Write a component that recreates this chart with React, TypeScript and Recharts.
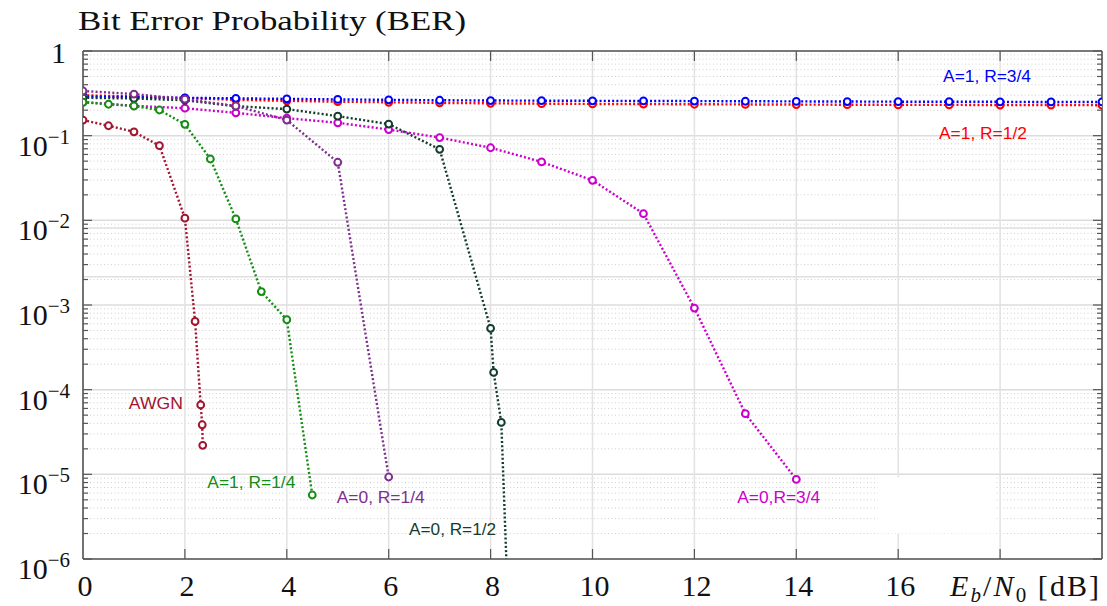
import React from 'react';
import {
  LineChart, Line, XAxis, YAxis, CartesianGrid, ReferenceDot, ReferenceArea, ReferenceLine,
} from 'recharts';

// ---- data ----
const AWGN_X = [0, 0.5, 1, 1.5, 2, 2.2, 2.31, 2.34, 2.35];
const AWGN_BER = [0.153, 0.131, 0.111, 0.0762, 0.0106, 6.4e-4, 6.6e-5, 3.85e-5, 2.2e-5];

const A1R14_X = [0, 0.5, 1, 1.5, 2, 2.5, 3, 3.5, 4, 4.5];
const A1R14_BER = [0.248, 0.235, 0.224, 0.201, 0.136, 0.053, 0.0104, 1.44e-3, 6.7e-4, 5.7e-6];

const A0R14_X = [0, 1, 2, 3, 4, 5, 6];
const A0R14_BER = [0.337, 0.31, 0.27, 0.224, 0.153, 0.0485, 9.3e-6];

const A0R12_X = [0, 1, 2, 3, 4, 5, 6, 7, 8, 8.06, 8.21, 8.37];
const A0R12_BER = [0.28, 0.275, 0.262, 0.223, 0.206, 0.17, 0.137, 0.069, 5.3e-4, 1.6e-4, 4.1e-5, 1e-7];

const A0R34_X = [0, 1, 2, 3, 4, 5, 6, 7, 8, 9, 10, 11, 12, 13, 14];
const A0R34_BER = [0.25, 0.225, 0.211, 0.186, 0.161, 0.142, 0.118, 0.095, 0.072, 0.049, 0.0297, 0.012, 9.2e-4, 5.2e-5, 8.7e-6];

const A1_X = [0, 1, 2, 3, 4, 5, 6, 7, 8, 9, 10, 11, 12, 13, 14, 15, 16, 17, 18, 19, 20];
const A1R34_BER = [0.29, 0.285, 0.28, 0.276, 0.272, 0.268, 0.265, 0.262, 0.26, 0.259, 0.258, 0.257, 0.256, 0.255, 0.254, 0.253, 0.252, 0.252, 0.251, 0.25, 0.25];
const A1R12_BER = [0.3, 0.29, 0.278, 0.265, 0.258, 0.252, 0.248, 0.244, 0.241, 0.239, 0.237, 0.236, 0.235, 0.234, 0.233, 0.232, 0.231, 0.231, 0.23, 0.23, 0.229];

const X_TICKS = [0, 2, 4, 6, 8, 10, 12, 14, 16, 18, 20];
const Y_MAJOR = [1e-6, 1e-5, 1e-4, 1e-3, 1e-2, 1e-1, 1];
const Y_MINOR: number[] = [];
for (let e = -6; e < 0; e++) for (let m = 2; m <= 9; m++) Y_MINOR.push(m * Math.pow(10, e));
const Y_TICKS = [...Y_MAJOR, ...Y_MINOR].sort((a, b) => a - b);
// stray lines in the source image
const STRAY_LINES = [0.0081, 0.00215];

const TITLE = 'Bit Error Probability (BER)';

const LABEL_TEXT = ['AWGN', 'A=1, R=1/4', 'A=0, R=1/4', 'A=0, R=1/2', 'A=0,R=3/4', 'A=1, R=3/4', 'A=1, R=1/2'];
const LABEL_X = [0.9, 2.44, 4.98, 6.4, 12.84, 16.88, 16.8];
const LABEL_Y = [5.85e-5, 6.98e-6, 4.57e-6, 1.93e-6, 4.57e-6, 0.434, 0.0914];
const LABEL_W = [54, 88, 88, 87, 83, 88, 88];

const C_AWGN = '#a2142f';
const C_GREEN = '#138d13';
const C_PURPLE = '#7e2f8e';
const C_DKGREEN = '#123d2c';
const C_MAGENTA = '#cc00cc';
const C_BLUE = '#0000ff';
const C_RED = '#ff0000';
const LABEL_COLORS = [C_AWGN, C_GREEN, C_PURPLE, C_DKGREEN, C_MAGENTA, C_BLUE, C_RED];

const zip = (xs: number[], ys: number[]) => xs.map((x, i) => ({ x, y: ys[i] }));

const SERIES = [
  { name: 'A=1, R=1/2', color: C_RED, data: zip(A1_X, A1R12_BER) },
  { name: 'A=1, R=3/4', color: C_BLUE, data: zip(A1_X, A1R34_BER) },
  { name: 'A=0, R=3/4', color: C_MAGENTA, data: zip(A0R34_X, A0R34_BER) },
  { name: 'A=0, R=1/2', color: C_DKGREEN, data: zip(A0R12_X, A0R12_BER) },
  { name: 'A=1, R=1/4', color: C_GREEN, data: zip(A1R14_X, A1R14_BER) },
  { name: 'AWGN', color: C_AWGN, data: zip(AWGN_X, AWGN_BER) },
  { name: 'A=0, R=1/4', color: C_PURPLE, data: zip(A0R14_X, A0R14_BER) },
];

const AXIS = '#555555';
const SERIF = '"Liberation Serif", "DejaVu Serif", serif';
const SANS = '"Liberation Sans", Arial, sans-serif';

const isMajor = (v: number) => Math.abs(Math.log10(v) - Math.round(Math.log10(v))) < 1e-6;

const YLeftTick = (props: any) => {
  const { x, y, payload } = props;
  const v = payload.value;
  const major = isMajor(v);
  const e = Math.round(Math.log10(v));
  return (
    <g>
      <line x1={x} x2={x + (major ? 9 : 5)} y1={y} y2={y} stroke={AXIS} strokeWidth={1.2} />
      {major && e === 0 && (
        <text x={x - 17} y={y + 12} textAnchor="end" fontFamily={SERIF} fontSize={30} fill="#111">1</text>
      )}
      {major && e !== 0 && (
        <text x={x - 13} y={y + 20} textAnchor="end" fontFamily={SERIF} fontSize={30} fill="#111">
          10<tspan dy={-12} fontSize={21}>{'\u2212' + Math.abs(e)}</tspan>
        </text>
      )}
    </g>
  );
};

const YRightTick = (props: any) => {
  const { x, y, payload } = props;
  const major = isMajor(payload.value);
  return <line x1={x} x2={x - (major ? 9 : 5)} y1={y} y2={y} stroke={AXIS} strokeWidth={1.2} />;
};

const XBottomTick = (props: any) => {
  const { x, y, payload } = props;
  const v = payload.value;
  return (
    <g>
      {v > 0 && v < 20 && <line x1={x} x2={x} y1={y} y2={y - 10} stroke={AXIS} strokeWidth={1.2} />}
      {v <= 16 && (
        <text x={x + 2} y={y + 37} textAnchor="middle" fontFamily={SERIF} fontSize={30} fill="#111">{v}</text>
      )}
      {v === 18 && (
        <text x={x - 50} y={y + 37} fontFamily={SERIF} fontSize={30} fill="#111" textLength={149} lengthAdjust="spacing">
          <tspan fontStyle="italic">E</tspan>
          <tspan fontStyle="italic" fontSize={21} dy={6}>b</tspan>
          <tspan dy={-6}>/</tspan>
          <tspan fontStyle="italic">N</tspan>
          <tspan fontSize={21} dy={6}>0</tspan>
          <tspan dy={-6}>{' [dB]'}</tspan>
        </text>
      )}
    </g>
  );
};

const XTopTick = (props: any) => {
  const { x, y, payload } = props;
  const v = payload.value;
  if (v <= 0 || v >= 20) return <g />;
  return <line x1={x} x2={x} y1={y} y2={y + 10} stroke={AXIS} strokeWidth={1.2} />;
};

const makeDot = (color: string) => (p: any) => {
  const { cx, cy, index } = p;
  if (cx == null || cy == null || !isFinite(cx) || !isFinite(cy)) return <g key={index} />;
  return <circle key={index} cx={cx} cy={cy} r={3.4} fill="#fff" stroke={color} strokeWidth={2} />;
};

const makeLabel = (text: string, color: string, width: number) => (p: any) => (
  <text x={p.cx} y={p.cy} fill={color} fontFamily={SANS} fontSize={16} textLength={width} lengthAdjust="spacingAndGlyphs">
    {text}
  </text>
);

export default function App() {
  return (
    <div style={{ position: 'absolute', left: 0, top: 0, width: 1107, height: 606, background: '#fff' }}>
      <LineChart width={1107} height={606} margin={{ top: 41, right: 0, bottom: 0, left: 0 }}>
        <CartesianGrid vertical={false} horizontalValues={Y_MINOR} stroke="#d0d0d0" strokeDasharray="1 2.5" strokeWidth={1} />
        <CartesianGrid vertical={false} horizontalValues={Y_MAJOR} stroke="#dcdcdc" strokeWidth={1.5} />
        <CartesianGrid horizontal={false} verticalValues={X_TICKS} stroke="#e2e2e2" strokeWidth={1.5} />
        {STRAY_LINES.map((v) => (
          <ReferenceLine key={v} y={v} stroke="#e0e0e0" strokeWidth={1.5} />
        ))}
        <ReferenceArea x1={15.6} x2={17.9} y1={2.0e-6} y2={9.2e-6} fill="#ffffff" fillOpacity={1} stroke="none" />
        <XAxis
          dataKey="x" type="number" domain={[0, 20]} ticks={X_TICKS} allowDataOverflow interval={0}
          height={47} tickSize={0} tickMargin={0} tick={<XBottomTick />}
          axisLine={{ stroke: AXIS, strokeWidth: 1.6 }}
        />
        <XAxis
          xAxisId="t" orientation="top" dataKey="x" type="number" domain={[0, 20]} ticks={X_TICKS}
          allowDataOverflow interval={0} height={10} tickSize={0} tickMargin={0} tick={<XTopTick />}
          axisLine={{ stroke: AXIS, strokeWidth: 1.6 }}
        />
        <YAxis
          type="number" scale="log" domain={[1e-6, 1]} ticks={Y_TICKS} allowDataOverflow interval={0}
          width={83} tickSize={0} tickMargin={0} tick={<YLeftTick />}
          axisLine={{ stroke: AXIS, strokeWidth: 1.6 }}
        />
        <YAxis
          yAxisId="r" orientation="right" type="number" scale="log" domain={[1e-6, 1]} ticks={Y_TICKS}
          allowDataOverflow interval={0} width={5} tickSize={0} tickMargin={0} tick={<YRightTick />}
          axisLine={{ stroke: AXIS, strokeWidth: 1.6 }}
        />
        {SERIES.map((s) => (
          <Line
            key={s.name} data={s.data} dataKey="y" type="linear" stroke={s.color} strokeWidth={2.4}
            strokeDasharray="2 2.2" dot={makeDot(s.color)} activeDot={false} isAnimationActive={false}
          />
        ))}
        {LABEL_TEXT.map((t, i) => (
          <ReferenceDot
            key={t} x={LABEL_X[i]} y={LABEL_Y[i]} r={0}
            shape={makeLabel(t, LABEL_COLORS[i], LABEL_W[i])}
          />
        ))}
      </LineChart>
      <svg width={1107} height={606} style={{ position: 'absolute', left: 0, top: 0, pointerEvents: 'none' }}>
        <text x={78} y={30} fontFamily={SERIF} fontSize={28} fill="#111" textLength={388} lengthAdjust="spacingAndGlyphs">
          {TITLE}
        </text>
      </svg>
    </div>
  );
}
